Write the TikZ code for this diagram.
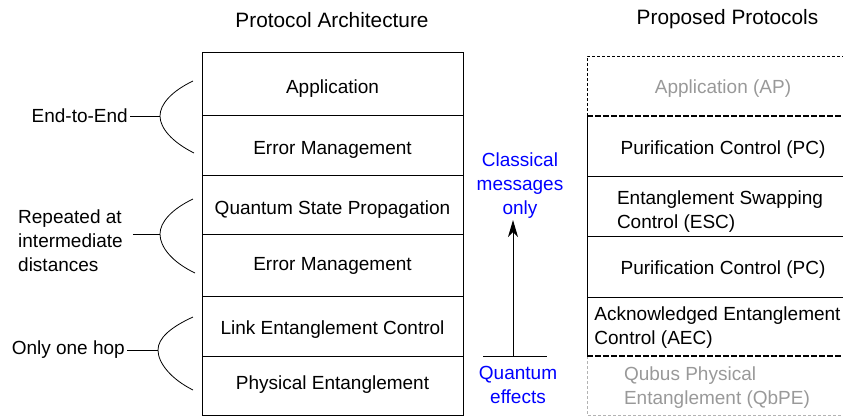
\documentclass[tikz,border=0pt]{standalone}
\usepackage{fontspec}
\setmainfont{Liberation Sans}
\usepackage{tikz}
\usetikzlibrary{positioning, arrows.meta}
\definecolor{fadedtext}{HTML}{999999}
\definecolor{fadedline}{HTML}{B3B3B3}
\newcommand{\bodyfont}{\fontsize{19}{24}\selectfont}
\newcommand{\titlefont}{\fontsize{20.8}{25}\selectfont}

\begin{document}
\begin{tikzpicture}[x=1pt, y=-1pt,
        frame/.style={line width=1pt},
        layer/.style={font=\bodyfont, align=left, inner sep=0pt},
        faded/.style={layer, text=fadedtext},
        side/.style={font=\bodyfont, align=left, inner sep=2pt},
        remark/.style={font=\bodyfont, align=center, text=blue, inner sep=1pt},
        brace/.style={line width=0.8pt},
        ]
        \useasboundingbox (0,0) rectangle (843,416);

        % titles
        \node[font=\titlefont] (archtitle) at (332,20) {Protocol Architecture};
        \node[font=\titlefont] (proptitle) at (727.5,19) {Proposed Protocols};

        % left stack
        \draw[frame] (202,52) rectangle (463,415);
        \foreach \y in {115,175,234,296,356}
            \draw[frame] (202,\y) -- (463,\y);

        \node[layer] (app) at (332.5,88.5) {Application};
        \node[layer] (err1) at (332.5,149.5) {Error Management};
        \node[layer] (qsp) at (332.5,209.5) {Quantum State Propagation};
        \node[layer] (err2) at (332.5,265.5) {Error Management};
        \node[layer] (lec) at (332.5,329.5) {Link Entanglement Control};
        \node[layer] (phy) at (332.5,384.5) {Physical Entanglement};

        % right stack
        \draw[line width=0.8pt, dash pattern=on 3pt off 2pt] (587,116) -- (587,56) -- (860,56);
        \draw[line width=0.8pt, dash pattern=on 3pt off 2pt, fadedline] (587,356) -- (587,415) -- (860,415);
        \draw[frame] (587,116) -- (587,356);
        \foreach \y in {176,236,297}
            \draw[frame] (587,\y) -- (860,\y);
        \draw[line width=1.1pt, dash pattern=on 6pt off 2pt] (587,116) -- (860,116);
        \draw[line width=1.1pt, dash pattern=on 6pt off 2pt] (587,356) -- (860,356);

        \node[faded] (ap) at (723,89) {Application (AP)};
        \node[layer] (pc1) at (723,150) {Purification Control (PC)};
        \node[layer] (esc) at (720,212) {Entanglement Swapping\\Control (ESC)};
        \node[layer] (pc2) at (723,270) {Purification Control (PC)};
        \node[layer] (aec) at (717.5,328) {Acknowledged Entanglement\\Control (AEC)};
        \node[faded] (qbpe) at (717,388) {Qubus Physical\\Entanglement (QbPE)};

        % scope labels
        \node[side, anchor=east] (e2e) at (130,116) {End-to-End};
        \node[side, anchor=west] (rep) at (16,241) {Repeated at\\intermediate\\distances};
        \node[side, anchor=east] (hop) at (127,350) {Only one hop};

        \coordinate (tipA) at (160,116);
        \coordinate (tipB) at (160,234);
        \coordinate (tipC) at (158,350);

        \draw[brace] (e2e) -- (tipA);
        \draw[brace] ([xshift=8pt]rep.east |- tipB) -- (tipB);
        \draw[brace] (hop) -- (tipC);

        \draw[brace] (193,81) .. controls (172,91) and (160,104) .. (tipA)
            .. controls (160,128) and (172,142) .. (194,153);
        \draw[brace] (193,199) .. controls (172,209) and (160,222) .. (tipB)
            .. controls (160,247) and (172,262) .. (195,273);
        \draw[brace] (193,317) .. controls (171,327) and (158,338) .. (tipC)
            .. controls (158,363) and (171,379) .. (193,390);

        % classical / quantum
        \node[remark] (msg) at (520,186) {Classical\\messages\\only};
        \node[remark] (qfx) at (518,384.5) {Quantum\\effects};

        \coordinate (qleft) at (483,356);
        \coordinate (qright) at (547,356);
        \coordinate (qbase) at (513,356);
        \draw[line width=1pt] (qleft) -- (qright);
        \draw[line width=1pt, -{Stealth[length=17pt, width=10pt, inset=5pt]}] (qbase) -- (qbase |- msg.south);

\end{tikzpicture}
\end{document}
